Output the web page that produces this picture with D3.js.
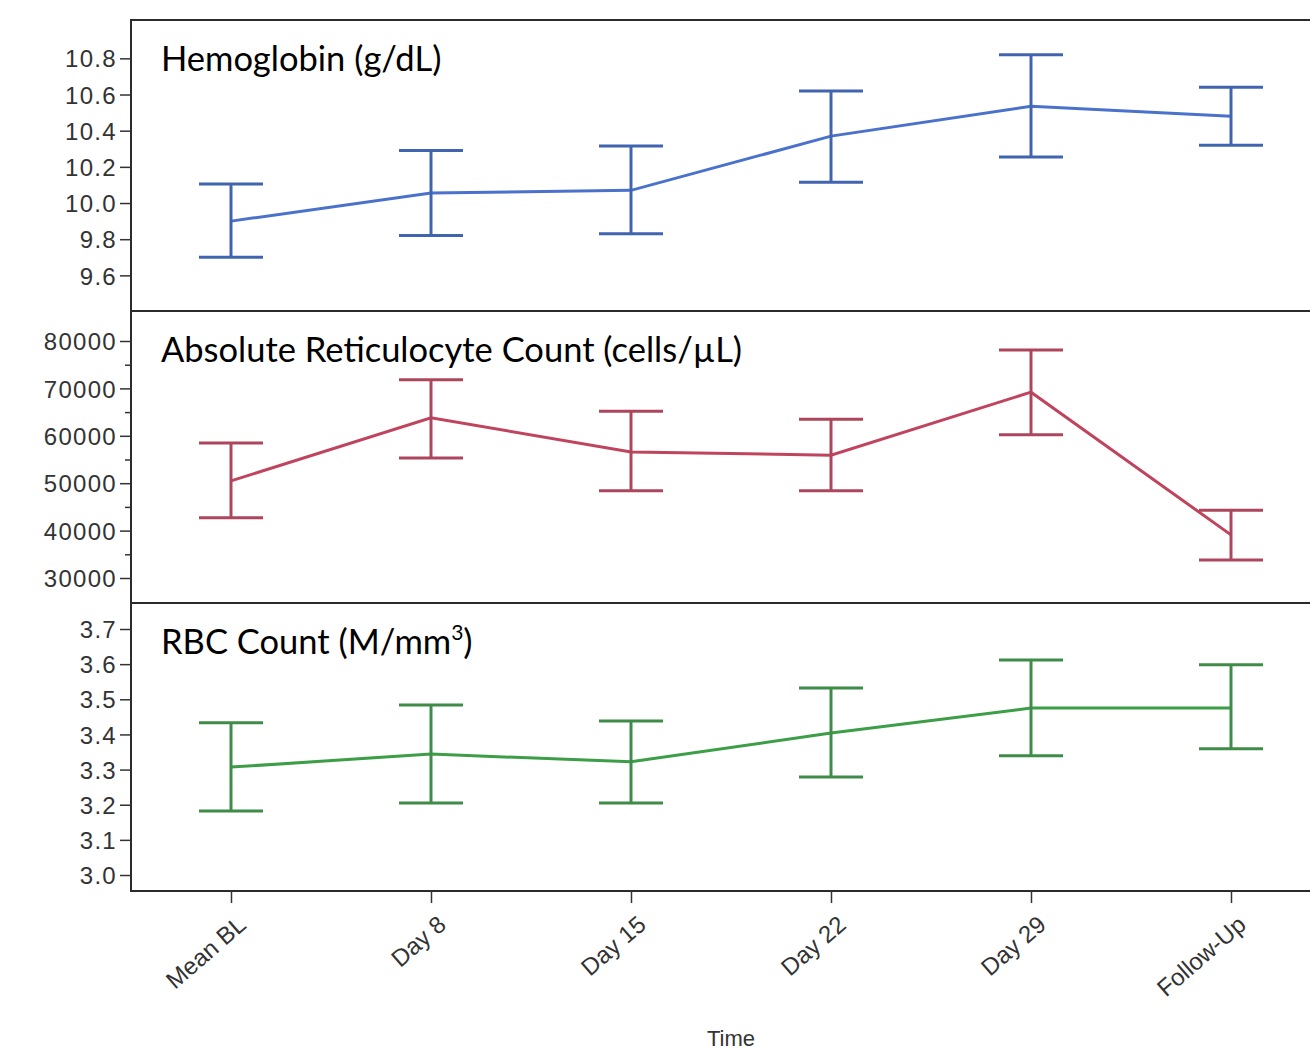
<!DOCTYPE html>
<html>
<head>
<meta charset="utf-8">
<script src="https://cdn.jsdelivr.net/npm/d3@7"></script>
<style>
  body { margin: 0; background: #fff; }
  .tick text { font-family: "Liberation Sans", Arial, sans-serif; fill: #333; }
</style>
</head>
<body>
<div id="chart"></div>
<script>
// data
const categories = ['Mean BL', 'Day 8', 'Day 15', 'Day 22', 'Day 29', 'Follow-Up'];

const hgbMean = [9.90, 10.055, 10.07, 10.37, 10.535, 10.48];
const hgbLow  = [9.70, 9.82, 9.83, 10.115, 10.255, 10.32];
const hgbHigh = [10.105, 10.29, 10.315, 10.62, 10.82, 10.64];
const hgbTicks = [9.6, 9.8, 10.0, 10.2, 10.4, 10.6, 10.8];

const arcMean = [50500, 63800, 56600, 55900, 69200, 39100];
const arcLow  = [42700, 55300, 48400, 48400, 60200, 33800];
const arcHigh = [58500, 71800, 65200, 63500, 78100, 44300];
const arcTicks = [30000, 40000, 50000, 60000, 70000, 80000];

const rbcMean = [3.307, 3.344, 3.322, 3.404, 3.475, 3.475];
const rbcLow  = [3.182, 3.205, 3.205, 3.279, 3.339, 3.359];
const rbcHigh = [3.433, 3.484, 3.438, 3.532, 3.612, 3.598];
const rbcTicks = [3.0, 3.1, 3.2, 3.3, 3.4, 3.5, 3.6, 3.7];

// =============================================
const width = 1310, height = 1054;
const left = 131, right = 1331;

const svg = d3.select('#chart')
  .append('svg')
  .attr('width', width)
  .attr('height', height);

const x = d3.scalePoint()
  .domain(categories)
  .range([left, right])
  .padding(0.5);

const panels = [
  { title: 'Hemoglobin (g/dL)', top: 20, bottom: 311, domain: [9.403, 11.012],
    mean: hgbMean, low: hgbLow, high: hgbHigh, ticks: hgbTicks, minor: null,
    fmt: d3.format('.1f'), line: '#4a72cc', bar: '#4064b0' },
  { title: 'Absolute Reticulocyte Count (cells/\u00b5L)', top: 311, bottom: 603, domain: [24726, 86329],
    mean: arcMean, low: arcLow, high: arcHigh, ticks: arcTicks, minor: 5000,
    fmt: d3.format('d'), line: '#c0445e', bar: '#ad465c' },
  { title: 'RBC Count (M/mm', sup: '3', top: 603, bottom: 891, domain: [2.9545, 3.774],
    mean: rbcMean, low: rbcLow, high: rbcHigh, ticks: rbcTicks, minor: null,
    fmt: d3.format('.1f'), line: '#3c9e46', bar: '#3f8c48' }
];

panels.forEach(function (p) {
  const y = d3.scaleLinear().domain(p.domain).range([p.bottom, p.top]);
  const g = svg.append('g');

  // frame
  g.append('rect')
    .attr('x', left).attr('y', p.top)
    .attr('width', right - left).attr('height', p.bottom - p.top)
    .attr('fill', 'none')
    .attr('stroke', '#2b2b2b')
    .attr('stroke-width', 2);

  // minor ticks
  if (p.minor) {
    const minorVals = d3.range(p.ticks[0], p.ticks[p.ticks.length - 1] + 1, p.minor)
      .filter(v => p.ticks.indexOf(v) < 0);
    g.append('g')
      .attr('transform', `translate(${left},0)`)
      .call(d3.axisLeft(y).tickValues(minorVals).tickSize(6).tickFormat(''))
      .call(a => a.select('.domain').remove())
      .call(a => a.selectAll('.tick line').attr('stroke', '#333').attr('stroke-width', 1.5));
  }

  // major ticks
  g.append('g')
    .attr('transform', `translate(${left},0)`)
    .call(d3.axisLeft(y).tickValues(p.ticks).tickSize(11).tickPadding(3).tickFormat(p.fmt))
    .call(a => a.select('.domain').remove())
    .call(a => a.selectAll('.tick line').attr('stroke', '#333').attr('stroke-width', 1.5))
    .call(a => a.selectAll('.tick text')
      .style('font-size', '24px')
      .style('letter-spacing', '1.3px')
      .attr('dy', '0.36em'));

  // connecting line
  const line = d3.line()
    .x((d, i) => x(categories[i]))
    .y(d => y(d));

  g.append('path')
    .datum(p.mean)
    .attr('d', line)
    .attr('fill', 'none')
    .attr('stroke', p.line)
    .attr('stroke-width', 3);

  // error bars
  const bars = g.selectAll('.err')
    .data(categories)
    .enter()
    .append('g')
    .attr('class', 'err')
    .attr('stroke', p.bar)
    .attr('stroke-width', 3);

  bars.append('line')
    .attr('x1', d => x(d)).attr('x2', d => x(d))
    .attr('y1', (d, i) => y(p.low[i])).attr('y2', (d, i) => y(p.high[i]));
  bars.append('line')
    .attr('x1', d => x(d) - 32).attr('x2', d => x(d) + 32)
    .attr('y1', (d, i) => y(p.high[i])).attr('y2', (d, i) => y(p.high[i]));
  bars.append('line')
    .attr('x1', d => x(d) - 32).attr('x2', d => x(d) + 32)
    .attr('y1', (d, i) => y(p.low[i])).attr('y2', (d, i) => y(p.low[i]));

  // title
  const t = g.append('text')
    .attr('x', 161)
    .attr('y', p.top + 51)
    .style('font-family', 'Lato, "Open Sans", sans-serif')
    .style('font-size', '34.5px')
    .attr('fill', '#000')
    .text(p.title);
  if (p.sup) {
    t.append('tspan').attr('dy', -14).style('font-size', '21px').text(p.sup);
    t.append('tspan').attr('dy', 14).text(')');
  }
});

// x axis
const xAxis = svg.append('g')
  .attr('transform', `translate(0,${panels[2].bottom})`)
  .call(d3.axisBottom(x).tickSize(12).tickSizeOuter(0))
  .call(a => a.select('.domain').remove())
  .call(a => a.selectAll('.tick line').attr('stroke', '#333').attr('stroke-width', 1.5));

xAxis.selectAll('.tick text')
  .style('font-size', '24px')
  .attr('text-anchor', 'end')
  .attr('y', 0)
  .attr('dy', 0)
  .attr('transform', 'translate(16,36) rotate(-41)');

svg.append('text')
  .attr('x', 731)
  .attr('y', 1046)
  .attr('text-anchor', 'middle')
  .style('font-family', '"Liberation Sans", Arial, sans-serif')
  .style('font-size', '22px')
  .attr('fill', '#333')
  .text('Time');
</script>
</body>
</html>
